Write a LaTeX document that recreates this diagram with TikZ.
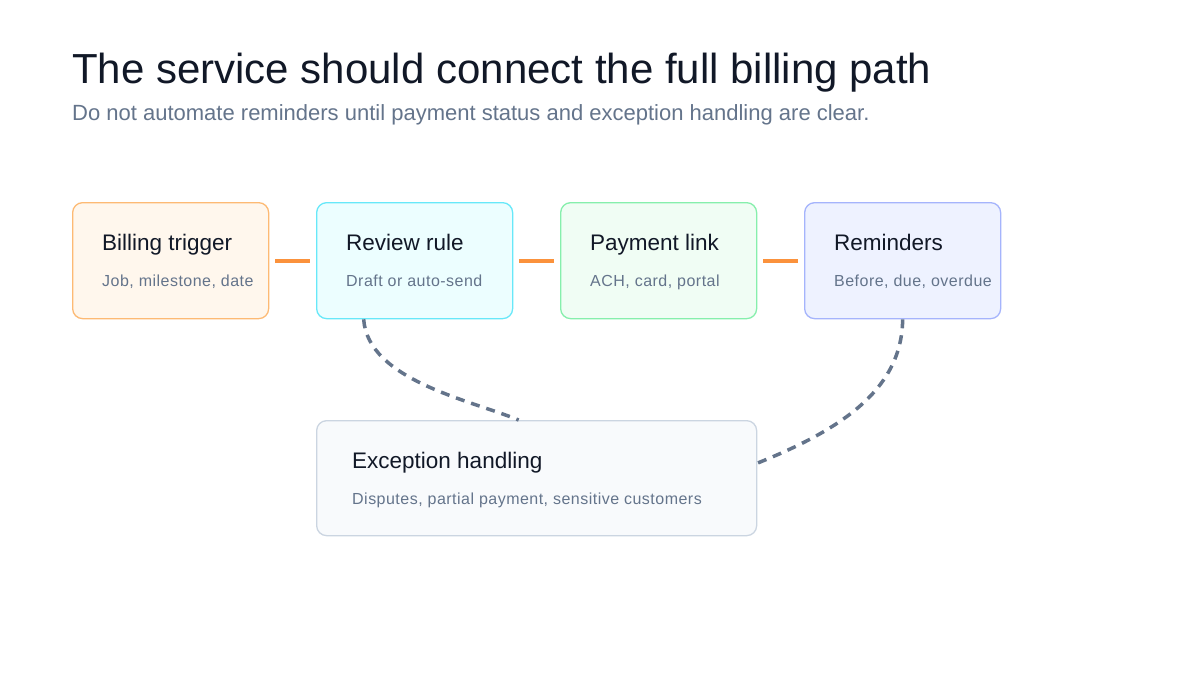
\documentclass[tikz,border=0pt]{standalone}
\usepackage{fontspec}
\setmainfont{Liberation Sans}
\definecolor{ttl}{HTML}{111827}
\definecolor{sub}{HTML}{64748B}
\definecolor{org}{HTML}{FB923C}
\begin{document}
\begin{tikzpicture}[x=1pt,y=-1pt,
 box/.style={draw,line width=1.3pt,rounded corners=10pt,minimum width=196pt,minimum height=116pt,anchor=north west},
 bt/.style={anchor=base west,font=\fontsize{22.5}{26}\selectfont,text=ttl},
 bs/.style={anchor=base west,font=\fontsize{16}{19}\selectfont\addfontfeature{LetterSpace=3},text=sub},
 link/.style={draw=org,line width=4pt,shorten <=6pt,shorten >=6pt},
 dsh/.style={draw=sub,line width=3.5pt,dash pattern=on 9pt off 7pt}]
\useasboundingbox (0,0) rectangle (1200,675);
\fill[white] (0,0) rectangle (1200,675);
\node[anchor=base west,font=\fontsize{42}{46}\selectfont,text=ttl,inner sep=0] (title) at (72,83) {The service should connect the full billing path};
\node[anchor=base west,font=\fontsize{22}{26}\selectfont,text=sub,inner sep=0] (subtitle) at (72,120) {Do not automate reminders until payment status and exception handling are clear.};
\node[box,draw={rgb,255:red,253;green,186;blue,116},fill={rgb,255:red,255;green,247;blue,237}] (b1) at (72,202) {};
\node[box,draw={rgb,255:red,103;green,232;blue,249},fill={rgb,255:red,236;green,254;blue,255}] (b2) at (316,202) {};
\node[box,draw={rgb,255:red,134;green,239;blue,172},fill={rgb,255:red,240;green,253;blue,244}] (b3) at (560,202) {};
\node[box,draw={rgb,255:red,165;green,180;blue,252},fill={rgb,255:red,238;green,242;blue,255}] (b4) at (804,202) {};
\node[box,minimum width=440pt,minimum height=115pt,draw={rgb,255:red,203;green,213;blue,225},fill={rgb,255:red,248;green,250;blue,252}] (ex) at (316,420) {};
\node[bt,inner sep=0] (t1) at (102,250) {Billing trigger};
\node[bs,inner sep=0] (s1) at (102,286) {Job, milestone, date};
\node[bt,inner sep=0] (t2) at (346,250) {Review rule};
\node[bs,inner sep=0] (s2) at (346,286) {Draft or auto-send};
\node[bt,inner sep=0] (t3) at (590,250) {Payment link};
\node[bs,inner sep=0] (s3) at (590,286) {ACH, card, portal};
\node[bt,inner sep=0] (t4) at (834,250) {Reminders};
\node[bs,inner sep=0] (s4) at (834,286) {Before, due, overdue};
\node[bt,inner sep=0] (te) at (352,468) {Exception handling};
\node[bs,inner sep=0] (se) at (352,504) {Disputes, partial payment, sensitive customers};
\draw[link] (b1.east) -- (b2.west);
\draw[link] (b2.east) -- (b3.west);
\draw[link] (b3.east) -- (b4.west);
\coordinate (p1) at ([xshift=-51pt]b2.south);
\coordinate (p2) at ([xshift=-18pt]ex.north);
\coordinate (p4) at ([yshift=15pt]ex.east);
\draw[dsh] (p1) .. controls (368,380) and (470,400) .. (p2);
\draw[dsh] (b4.south) .. controls (902,390) and (840,430) .. (p4);
\end{tikzpicture}
\end{document}
